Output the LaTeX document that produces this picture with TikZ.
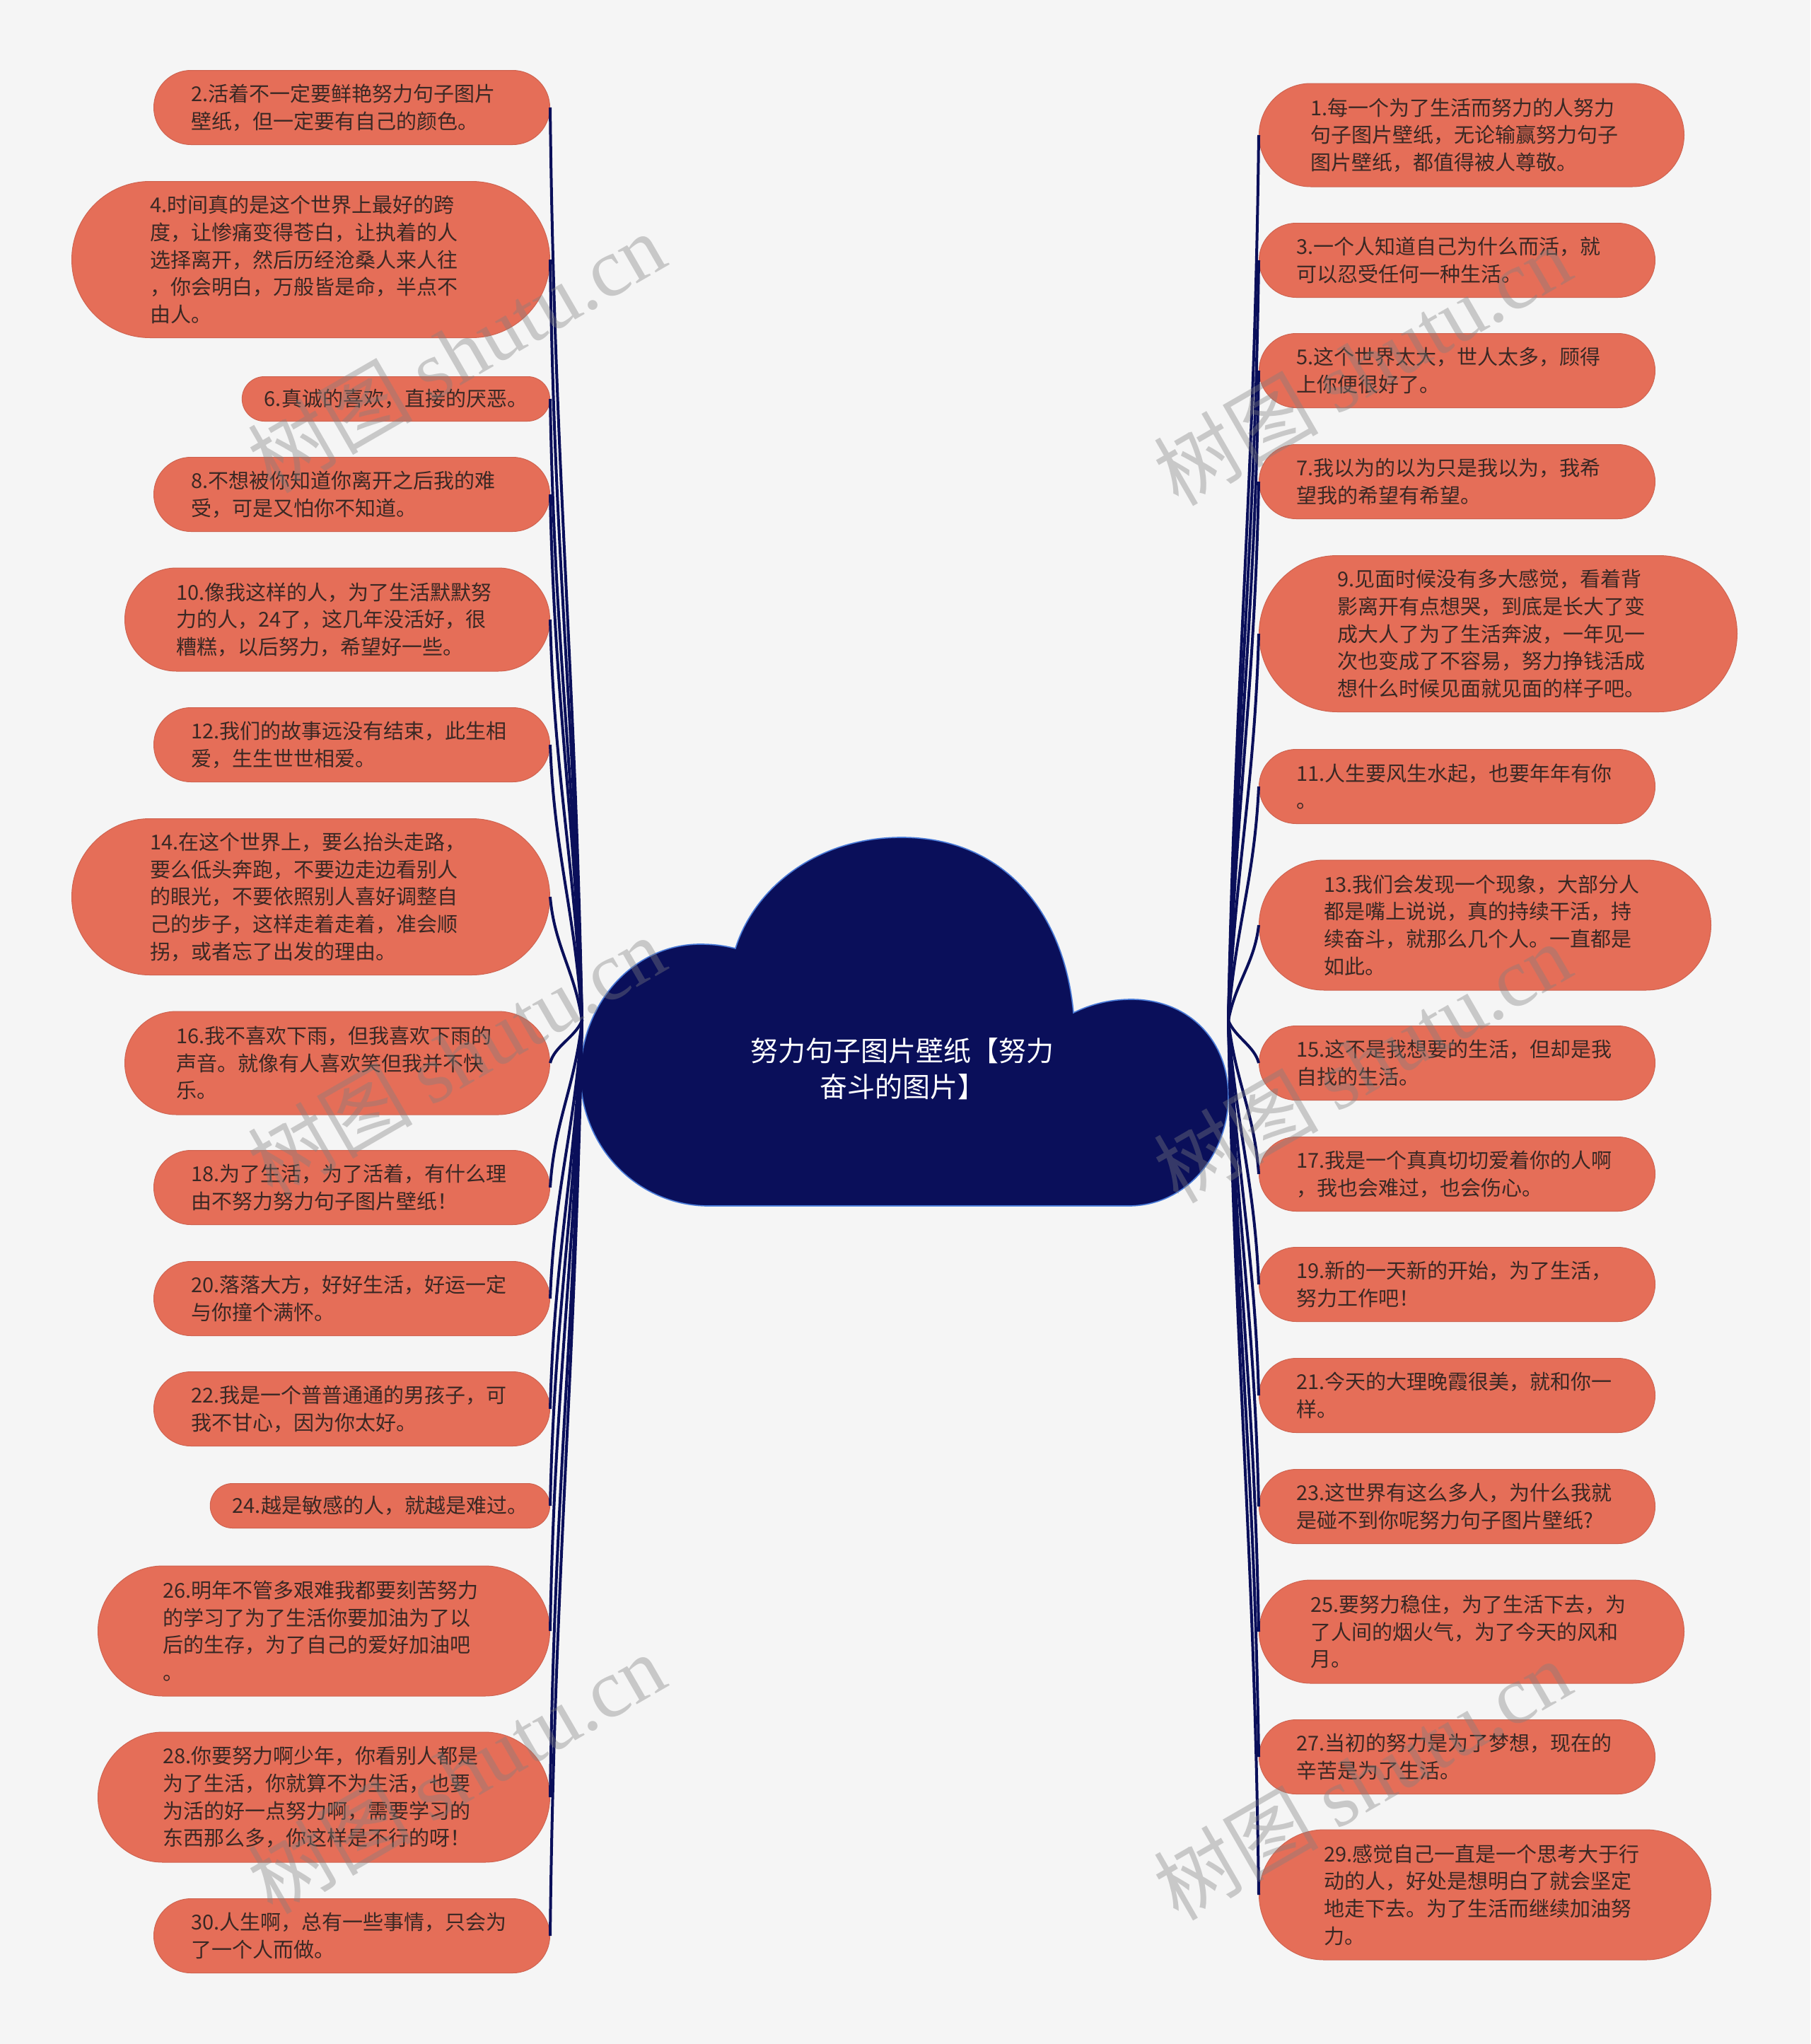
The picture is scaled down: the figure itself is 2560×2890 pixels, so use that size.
\documentclass[tikz,border=0pt]{standalone}
\usepackage{fontspec}
\setmainfont{Noto Sans CJK SC}
\newfontfamily\wmserif{Liberation Serif}
\usetikzlibrary{calc}

\definecolor{bgc}{HTML}{F5F5F5}
\definecolor{leafc}{HTML}{E56E58}
\definecolor{leafd}{HTML}{CF6350}
\definecolor{txtc}{HTML}{3A2824}
\definecolor{navy}{HTML}{0A0F5A}
\definecolor{rimc}{HTML}{4A7BD8}
\definecolor{wmc}{HTML}{808080}

\newcommand\leaffont{\fontsize{8.7}{11.6}\selectfont}
\newcommand\hubfont{\fontsize{11.7}{15.5}\selectfont}

% #1 is half the height of a leaf
\tikzset{
  leaf/.style={rectangle, fill=leafc, draw=leafd, line width=0.3pt,
    text=txtc, font=\leaffont, align=left, text width=136.5pt,
    inner xsep=#1, inner ysep=2pt, minimum height=2*#1, rounded corners=#1},
  short/.style={leaf=#1, text width={}},
  link/.style={draw=navy, line width=1.2pt},
  wm/.style={text=wmc, opacity=0.38, rotate=30, font=\fontsize{35}{38}\selectfont}
}

\begin{document}
\begin{tikzpicture}[x=0.3pt,y=-0.3pt]
\fill[bgc] (0,0) rectangle (2560,2890);
\useasboundingbox (0,0) rectangle (2560,2890);

% cloud in the middle
\fill[navy, draw=rimc, line width=0.5pt] (1002,1705) -- (1596,1705)
  .. controls (1680,1705) and (1737,1630) .. (1737,1550)
  .. controls (1737,1470) and (1680,1413) .. (1600,1413)
  .. controls (1565,1413) and (1538,1422) .. (1518,1432)
  .. controls (1505,1290) and (1420,1184) .. (1275,1184)
  .. controls (1150,1184) and (1065,1260) .. (1040,1341)
  .. controls (1020,1336) and (1005,1335) .. (990,1335)
  .. controls (895,1335) and (821,1420) .. (821,1520)
  .. controls (821,1620) and (900,1705) .. (1002,1705) -- cycle;
\node[text=white, font=\hubfont, align=center] (hub) at (1276,1511)
  {努力句子图片壁纸【努力\\奋斗的图片】};
\coordinate (lhub) at (823,1443);
\coordinate (rhub) at (1737,1443);

% left side
\node[leaf=15.75pt, anchor=east] (n2) at (778,152) {2.活着不一定要鲜艳努力句子图片\\壁纸，但一定要有自己的颜色。};
\node[leaf=33.15pt, anchor=east] (n4) at (778,367) {4.时间真的是这个世界上最好的跨\\度，让惨痛变得苍白，让执着的人\\选择离开，然后历经沧桑人来人往\\，你会明白，万般皆是命，半点不\\由人。};
\node[short=9.45pt, anchor=east] (n6) at (778,564) {6.真诚的喜欢，直接的厌恶。};
\node[leaf=15.75pt, anchor=east] (n8) at (778,699) {8.不想被你知道你离开之后我的难\\受，可是又怕你不知道。};
\node[leaf=21.9pt, anchor=east] (n10) at (778,876) {10.像我这样的人，为了生活默默努\\力的人，24了，这几年没活好，很\\糟糕，以后努力，希望好一些。};
\node[leaf=15.75pt, anchor=east] (n12) at (778,1053) {12.我们的故事远没有结束，此生相\\爱，生生世世相爱。};
\node[leaf=33.15pt, anchor=east] (n14) at (778,1268) {14.在这个世界上，要么抬头走路，\\要么低头奔跑，不要边走边看别人\\的眼光，不要依照别人喜好调整自\\己的步子，这样走着走着，准会顺\\拐，或者忘了出发的理由。};
\node[leaf=21.9pt, anchor=east] (n16) at (778,1503) {16.我不喜欢下雨，但我喜欢下雨的\\声音。就像有人喜欢笑但我并不快\\乐。};
\node[leaf=15.75pt, anchor=east] (n18) at (778,1679) {18.为了生活，为了活着，有什么理\\由不努力努力句子图片壁纸！};
\node[leaf=15.75pt, anchor=east] (n20) at (778,1836) {20.落落大方，好好生活，好运一定\\与你撞个满怀。};
\node[leaf=15.75pt, anchor=east] (n22) at (778,1992) {22.我是一个普普通通的男孩子，可\\我不甘心，因为你太好。};
\node[short=9.45pt, anchor=east] (n24) at (778,2129) {24.越是敏感的人，就越是难过。};
\node[leaf=27.6pt, anchor=east] (n26) at (778,2306) {26.明年不管多艰难我都要刻苦努力\\的学习了为了生活你要加油为了以\\后的生存，为了自己的爱好加油吧\\。};
\node[leaf=27.6pt, anchor=east] (n28) at (778,2541) {28.你要努力啊少年，你看别人都是\\为了生活，你就算不为生活，也要\\为活的好一点努力啊，需要学习的\\东西那么多，你这样是不行的呀！};
\node[leaf=15.75pt, anchor=east] (n30) at (778,2737) {30.人生啊，总有一些事情，只会为\\了一个人而做。};

% right side
\node[leaf=21.9pt, anchor=west] (n1) at (1780,191) {1.每一个为了生活而努力的人努力\\句子图片壁纸，无论输赢努力句子\\图片壁纸，都值得被人尊敬。};
\node[leaf=15.75pt, anchor=west] (n3) at (1780,368) {3.一个人知道自己为什么而活，就\\可以忍受任何一种生活。};
\node[leaf=15.75pt, anchor=west] (n5) at (1780,524) {5.这个世界太大，世人太多，顾得\\上你便很好了。};
\node[leaf=15.75pt, anchor=west] (n7) at (1780,681) {7.我以为的以为只是我以为，我希\\望我的希望有希望。};
\node[leaf=33.15pt, anchor=west] (n9) at (1780,896) {9.见面时候没有多大感觉，看着背\\影离开有点想哭，到底是长大了变\\成大人了为了生活奔波，一年见一\\次也变成了不容易，努力挣钱活成\\想什么时候见面就见面的样子吧。};
\node[leaf=15.75pt, anchor=west] (n11) at (1780,1112) {11.人生要风生水起，也要年年有你\\。};
\node[leaf=27.6pt, anchor=west] (n13) at (1780,1308) {13.我们会发现一个现象，大部分人\\都是嘴上说说，真的持续干活，持\\续奋斗，就那么几个人。一直都是\\如此。};
\node[leaf=15.75pt, anchor=west] (n15) at (1780,1503) {15.这不是我想要的生活，但却是我\\自找的生活。};
\node[leaf=15.75pt, anchor=west] (n17) at (1780,1660) {17.我是一个真真切切爱着你的人啊\\，我也会难过，也会伤心。};
\node[leaf=15.75pt, anchor=west] (n19) at (1780,1816) {19.新的一天新的开始，为了生活，\\努力工作吧！};
\node[leaf=15.75pt, anchor=west] (n21) at (1780,1973) {21.今天的大理晚霞很美，就和你一\\样。};
\node[leaf=15.75pt, anchor=west] (n23) at (1780,2130) {23.这世界有这么多人，为什么我就\\是碰不到你呢努力句子图片壁纸?};
\node[leaf=21.9pt, anchor=west] (n25) at (1780,2307) {25.要努力稳住，为了生活下去，为\\了人间的烟火气，为了今天的风和\\月。};
\node[leaf=15.75pt, anchor=west] (n27) at (1780,2484) {27.当初的努力是为了梦想，现在的\\辛苦是为了生活。};
\node[leaf=27.6pt, anchor=west] (n29) at (1780,2679) {29.感觉自己一直是一个思考大于行\\动的人，好处是想明白了就会坚定\\地走下去。为了生活而继续加油努\\力。};

% connectors
\foreach \n in {n2,n4,n6,n8,n10,n12,n14,n16,n18,n20,n22,n24,n26,n28,n30}
  \draw[link] (lhub) .. controls ($(lhub)!.4!(lhub|-\n.east)+(-10,0)$)
    and ($(\n.east)!.4!(\n.east|-lhub)+(6,0)$) .. (\n.east);
\foreach \n in {n1,n3,n5,n7,n9,n11,n13,n15,n17,n19,n21,n23,n25,n27,n29}
  \draw[link] (rhub) .. controls ($(rhub)!.4!(rhub|-\n.west)+(10,0)$)
    and ($(\n.west)!.4!(\n.west|-rhub)+(-6,0)$) .. (\n.west);

% watermarks
\foreach \x/\y [count=\i] in {645/498,1926/516,645/1493,1926/1502,645/2507,1926/2516}
  \node[wm] (w\i) at (\x,\y) {树图 {\wmserif shutu.cn}};
\end{tikzpicture}
\end{document}
